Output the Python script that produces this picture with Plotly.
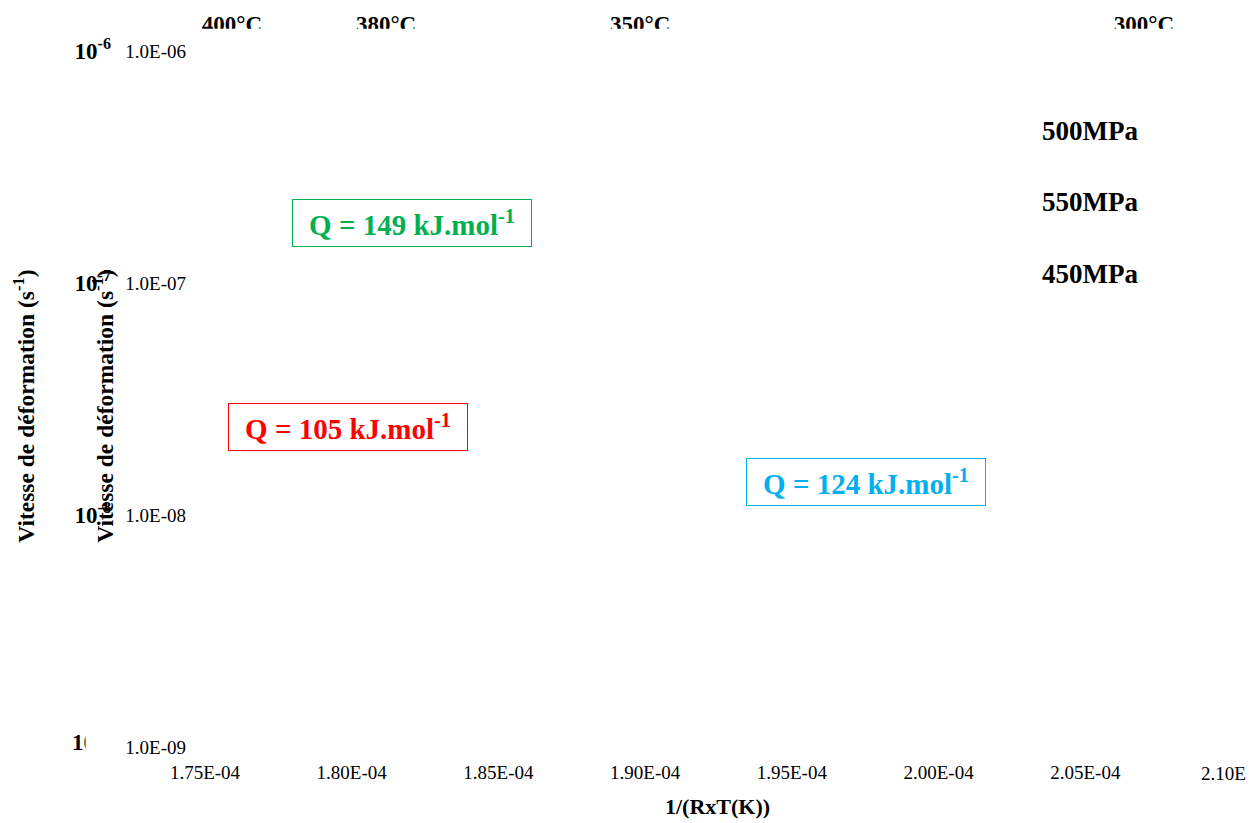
import plotly.graph_objects as go

# ---- data / labels ----
x_tick_vals = [1.75e-4, 1.80e-4, 1.85e-4, 1.90e-4, 1.95e-4, 2.00e-4, 2.05e-4]
x_tick_text = ["1.75E-04", "1.80E-04", "1.85E-04", "1.90E-04", "1.95E-04", "2.00E-04", "2.05E-04"]
x_last_tick_text = "2.10E"          # the last tick label is cut at the right edge in the reference
x_last_tick_left = 2.0888e-4        # left edge of that cut label, in axis units
y_tick_vals = [1e-9, 1e-8, 1e-7, 1e-6]
y_tick_text = ["1.0E-09", "1.0E-08", "1.0E-07", "1.0E-06"]
y2_tick_text = ["", "<b>10<sup>-8</sup></b>", "<b>10<sup>-7</sup></b>", "<b>10<sup>-6</sup></b>"]
y2_low_label = "<b>10<sup>-9</sup></b>"
temp_labels = ["400°C", "380°C", "350°C", "300°C"]
temp_positions = [1.7592e-4, 1.8117e-4, 1.8983e-4, 2.0700e-4]

stress_labels = ["500MPa", "550MPa", "450MPa"]
stress_x = [2.0346e-4, 2.0346e-4, 2.0346e-4]
stress_logy = [-6.346, -6.652, -6.962]

q_labels = ["Q = 149 kJ.mol<sup>-1</sup>", "Q = 105 kJ.mol<sup>-1</sup>", "Q = 124 kJ.mol<sup>-1</sup>"]
q_x = [1.8207e-4, 1.7987e-4, 1.9753e-4]
q_logy = [-6.743, -7.622, -7.858]
q_colors = ["#00B050", "#FF0000", "#00B0F0"]

FONT = "Times New Roman, Liberation Serif, serif"

fig = go.Figure()
fig.add_trace(go.Scatter(x=[], y=[], mode="markers", showlegend=False))
fig.add_trace(go.Scatter(x=[], y=[], mode="markers", xaxis="x2", yaxis="y2", showlegend=False))

fig.update_layout(
    width=1252, height=823,
    paper_bgcolor="white", plot_bgcolor="white",
    margin=dict(l=205, r=20, t=46, b=76),
    font=dict(family=FONT, color="black"),
    showlegend=False,
    xaxis=dict(
        range=[1.75e-4, 2.10e-4], tickvals=x_tick_vals, ticktext=x_tick_text,
        showgrid=False, zeroline=False, showline=False, ticks="",
        tickfont=dict(family=FONT, size=19), ticklabelstandoff=12,
    ),
    xaxis2=dict(
        range=[1.75e-4, 2.10e-4], overlaying="x", side="top", anchor="y",
        tickvals=temp_positions, ticktext=["<b>%s</b>" % t for t in temp_labels],
        showgrid=False, zeroline=False, showline=False, ticks="",
        tickfont=dict(family=FONT, size=23), ticklabelstandoff=13,
    ),
    yaxis=dict(
        type="log", range=[-9, -6], tickvals=y_tick_vals, ticktext=y_tick_text,
        showgrid=False, zeroline=False, showline=False, ticks="",
        tickfont=dict(family=FONT, size=19), ticklabelstandoff=18,
    ),
    yaxis2=dict(
        type="log", range=[-9, -6], overlaying="y", side="left", anchor="x",
        tickvals=y_tick_vals, ticktext=y2_tick_text,
        showgrid=False, zeroline=False, showline=False, ticks="",
        tickfont=dict(family=FONT, size=23), ticklabelstandoff=93,
    ),
)

# white mask that cuts the temperature labels as in the reference
fig.add_shape(type="rect", xref="paper", yref="paper", x0=-0.01, x1=1.02, y0=1.0, y1=1.032,
              fillcolor="white", line=dict(width=0), layer="above")

# cut last x tick label
fig.add_annotation(text=x_last_tick_text, x=x_last_tick_left, xref="x", yref="paper", y=-0.038,
                   xanchor="left", yanchor="middle", showarrow=False,
                   font=dict(family=FONT, size=19))

# clipped lowest label of the second axis
fig.add_annotation(text=y2_low_label, xref="paper", yref="paper", x=-0.1315, y=0.0093,
                   xanchor="left", yanchor="middle", showarrow=False,
                   font=dict(family=FONT, size=23))
fig.add_annotation(text=" ", xref="paper", yref="paper", x=-0.0993, y=0.0079,
                   xanchor="center", yanchor="middle", showarrow=False,
                   width=34, height=38, borderpad=0, bgcolor="white")

# axis titles
fig.add_annotation(text="<b>1/(RxT(K))</b>", xref="paper", yref="paper", x=0.4995, y=-0.085,
                   showarrow=False, font=dict(family=FONT, size=22), yanchor="middle")
fig.add_annotation(text="<b>Vitesse de déformation (s<sup>-1</sup>)</b>", xref="paper", yref="paper",
                   x=-0.0993, y=0.489, textangle=-90, showarrow=False,
                   font=dict(family=FONT, size=23.5), xanchor="center", yanchor="middle")
fig.add_annotation(text="<b>Vitesse de déformation (s<sup>-1</sup>)</b>", xref="paper", yref="paper",
                   x=-0.1762, y=0.489, textangle=-90, showarrow=False,
                   font=dict(family=FONT, size=23.5), xanchor="center", yanchor="middle")

# stress labels
for t, xv, yv in zip(stress_labels, stress_x, stress_logy):
    fig.add_annotation(text="<b>%s</b>" % t, x=xv, y=yv, xref="x", yref="y", showarrow=False,
                       xanchor="left", font=dict(family=FONT, size=27, color="black"))

# activation energy boxes
for t, xv, yv, c in zip(q_labels, q_x, q_logy, q_colors):
    fig.add_annotation(text="<b>%s</b>" % t, x=xv, y=yv, xref="x", yref="y", showarrow=False,
                       font=dict(family=FONT, size=29, color=c),
                       bordercolor=c, borderwidth=1, borderpad=2, width=234, height=42,
                       bgcolor="white")

post = ("var gd=document.getElementById('{plot_id}');"
        "gd.style.overflow='hidden';"
        "document.body.style.margin='0';"
        "document.documentElement.style.overflow='hidden';")

fig.write_html("out.html", post_script=post, config={"displayModeBar": False})
